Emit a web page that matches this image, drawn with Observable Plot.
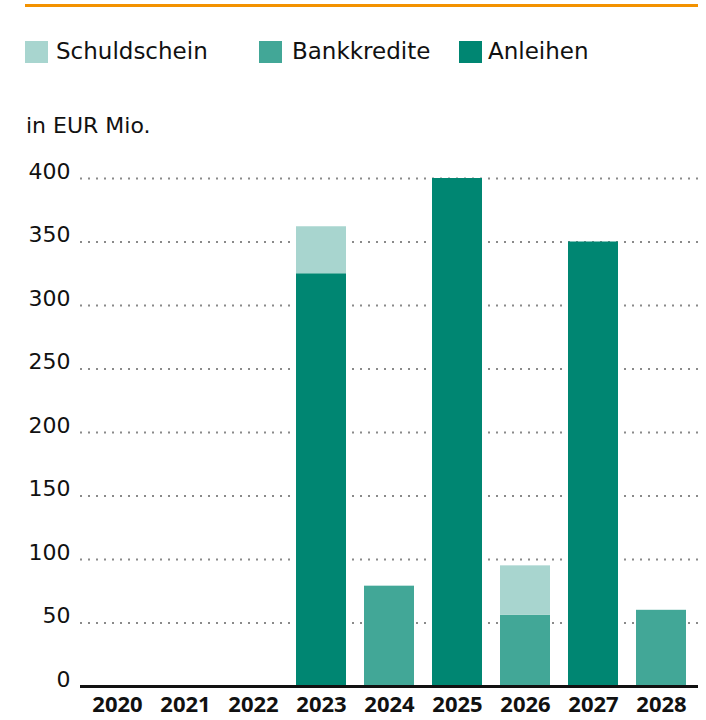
<!DOCTYPE html>
<html>
<head>
<meta charset="utf-8">
<script src="https://cdn.jsdelivr.net/npm/d3@7"></script>
<script src="https://cdn.jsdelivr.net/npm/@observablehq/plot@0.6"></script>
<style>
  html, body { margin: 0; padding: 0; background: #fff; }
  body { width: 706px; height: 720px; overflow: hidden; position: relative; font-family: "DejaVu Sans", sans-serif; }
  #header { position: relative; width: 706px; height: 145px; }
  .abs { position: absolute; }
  .sw { position: absolute; width: 23px; height: 22px; }
  .lt { position: absolute; font-size: 23px; line-height: 1; color: #111; white-space: nowrap; }
  #chart { position: relative; }
</style>
</head>
<body>
<div id="header"></div>
<div id="chart"></div>
<script>
const years = ["2020", "2021", "2022", "2023", "2024", "2025", "2026", "2027", "2028"];
const schuldschein = [0, 0, 0, 37, 0, 0, 39, 0, 0];
const bankkredite  = [0, 0, 0, 0, 79, 0, 56, 0, 60];
const anleihen     = [0, 0, 0, 325, 0, 400, 0, 350, 0];
const seriesNames = ["Schuldschein", "Bankkredite", "Anleihen"];
const seriesColors = ["#a8d5cf", "#42a797", "#008672"];
const yTicks = [0, 50, 100, 150, 200, 250, 300, 350, 400];
const unitLabel = "in EUR Mio.";

// header: orange rule, legend, unit label
const header = document.getElementById("header");
const rule = document.createElement("div");
rule.className = "abs";
Object.assign(rule.style, {left: "25px", top: "4px", width: "673px", height: "3px", background: "#f39200"});
header.appendChild(rule);

const swatchLeft = [25, 259, 459];
const textLeft = [56, 292, 488];
seriesNames.forEach((name, i) => {
  const sw = document.createElement("div");
  sw.className = "sw";
  sw.style.left = swatchLeft[i] + "px";
  sw.style.top = "41px";
  sw.style.background = seriesColors[i];
  header.appendChild(sw);
  const t = document.createElement("div");
  t.className = "lt";
  t.style.left = textLeft[i] + "px";
  t.style.top = "40px";
  t.textContent = name;
  header.appendChild(t);
});
const unit = document.createElement("div");
unit.className = "lt";
Object.assign(unit.style, {left: "26px", top: "115px", fontSize: "22px"});
unit.textContent = unitLabel;
header.appendChild(unit);

// long table, stacked bottom to top: Anleihen, Bankkredite, Schuldschein
const data = [];
years.forEach((y, i) => {
  data.push({year: y, type: "Anleihen", value: anleihen[i]});
  data.push({year: y, type: "Bankkredite", value: bankkredite[i]});
  data.push({year: y, type: "Schuldschein", value: schuldschein[i]});
});

const chart = Plot.plot({
  width: 706,
  height: 575,
  marginTop: 33,
  marginBottom: 34,
  marginLeft: 80,
  marginRight: 8,
  style: {fontFamily: "DejaVu Sans, sans-serif", fontSize: "22px", color: "#111", background: "#fff"},
  x: {type: "band", domain: years, paddingInner: 0.27, paddingOuter: 0.135, label: null},
  y: {domain: [0, 400], label: null},
  color: {domain: seriesNames, range: seriesColors},
  marks: [
    Plot.gridY(yTicks, {stroke: "#8a8a8a", strokeOpacity: 1, strokeWidth: 2, strokeDasharray: "2,6"}),
    Plot.barY(data, {x: "year", y: "value", fill: "type", order: ["Anleihen", "Bankkredite", "Schuldschein"]}),
    Plot.ruleY([0], {stroke: "#111", strokeWidth: 3}),
    Plot.axisY(yTicks, {tickSize: 0, tickPadding: 10, lineAnchor: "bottom", fontSize: 22, fill: "#111", label: null}),
    Plot.axisX({tickSize: 0, tickPadding: 10, fontSize: 22, fontWeight: "bold", fontFamily: "Noto Sans, sans-serif", fill: "#111", label: null})
  ]
});
document.getElementById("chart").appendChild(chart);
</script>
</body>
</html>
